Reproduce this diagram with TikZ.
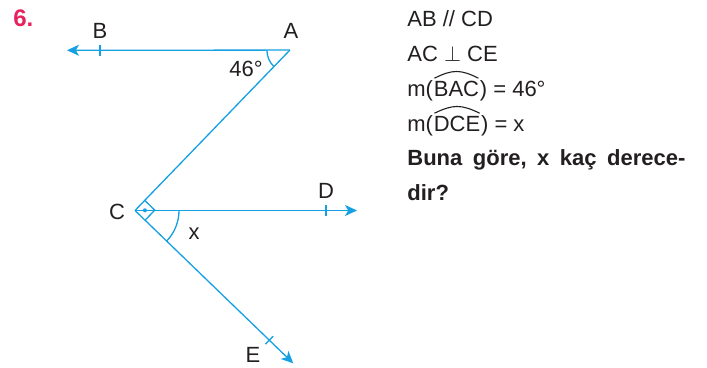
\documentclass[tikz,border=0pt]{standalone}
\usepackage{fontspec}
\setmainfont{Liberation Sans}
\usetikzlibrary{arrows.meta,calc}
\definecolor{lineblue}{RGB}{20,160,226}
\definecolor{numred}{RGB}{230,35,95}
\definecolor{txt}{RGB}{35,31,32}
\tikzset{
  geo/.style={draw=lineblue,line width=0.65pt},
  arrowline/.style={geo,-{Stealth[length=6pt,width=5.5pt,inset=1.6pt]}},
  lbl/.style={inner sep=0pt,text=txt,font=\fontsize{11}{13}\selectfont},
  rtxt/.style={inner sep=0pt,anchor=base west,text=txt,font=\fontsize{11}{13}\selectfont},
  hat/.style={draw=txt,line width=0.55pt}
}
\begin{document}
\begin{tikzpicture}[x=0.5pt,y=0.5pt]
\useasboundingbox (0,0) rectangle (707,368);
% points
\coordinate (C) at (135,157.5);
\coordinate (A) at ($(C)+(46:223)$);
\coordinate (Btip) at (67,317.7);
\coordinate (Dtip) at (357,157.5);
\coordinate (Etip) at ($(C)+(-44:220)$);
\coordinate (Btick) at (100,317.7);
\coordinate (Dtick) at (326,157.5);
\coordinate (Etick) at ($(C)+(-44:186.7)$);
% lines
\draw[arrowline] (A) -- (Btip);
\draw[geo] (A) -- (C);
\draw[arrowline] (C) -- (Dtip);
\draw[arrowline] (C) -- (Etip);
% ticks
\draw[geo] ($(Btick)+(0,5.5)$) -- ($(Btick)+(0,-5.5)$);
\draw[geo] ($(Dtick)+(0,5.5)$) -- ($(Dtick)+(0,-5.5)$);
\draw[geo] ($(Etick)+(46:5.5)$) -- ($(Etick)+(226:5.5)$);
% angle arcs
\draw[geo] ($(A)+(180:23)$) arc[start angle=180,end angle=226,radius=23];
\draw[geo] ($(C)+(0:44)$) arc[start angle=0,end angle=-44,radius=44];
% right angle mark
\draw[geo] ($(C)+(46:14)$) -- ++(-44:14) -- ++(226:14);
\fill[lineblue] ($(C)+(46:7)+(-44:7)$) circle[radius=2];
% labels
\node[lbl] (lB) at (100,337) {B};
\node[lbl] (lA) at (291,337) {A};
\node[lbl] (l46) at (246,299) {46°};
\node[lbl] (lC) at (117,156.3) {C};
\node[lbl] (lD) at (326,177) {D};
\node[lbl] (lx) at (194,134) {x};
\node[lbl] (lE) at (253,13.5) {E};
% number
\node[inner sep=0pt,anchor=base west,text=numred,font=\fontsize{12}{14}\selectfont\bfseries] (num) at (13,341) {6.};
% right text
\node[rtxt] (t1) at (407,341) {AB // CD};
\node[rtxt] (t2) at (407,306) {AC $\perp$ CE};
\node[rtxt] (t3a) at (407,271) {m(};
\node[rtxt] (t3b) at (t3a.base east) {BAC};
\node[rtxt] (t3c) at (t3b.base east) {) = 46°};
\node[rtxt] (t4a) at (407,236) {m(};
\node[rtxt] (t4b) at (t4a.base east) {DCE};
\node[rtxt] (t4c) at (t4b.base east) {) = x};
\draw[hat] ($(t3b.north west)+(1,3)$) .. controls ($(t3b.north)+(-4,12)$) and ($(t3b.north)+(4,12)$) .. ($(t3b.north east)+(-1,3)$);
\draw[hat] ($(t4b.north west)+(1,3)$) .. controls ($(t4b.north)+(-4,12)$) and ($(t4b.north)+(4,12)$) .. ($(t4b.north east)+(-1,3)$);
\node[rtxt,font=\fontsize{11}{13}\selectfont\bfseries] (t5) at (407,202) {\hbox to 139pt{Buna\hfil\ göre,\hfil\ x\hfil\ kaç\hfil\ derece-}};
\node[rtxt,font=\fontsize{11}{13}\selectfont\bfseries] (t6) at (407,167) {dir?};
\end{tikzpicture}
\end{document}
